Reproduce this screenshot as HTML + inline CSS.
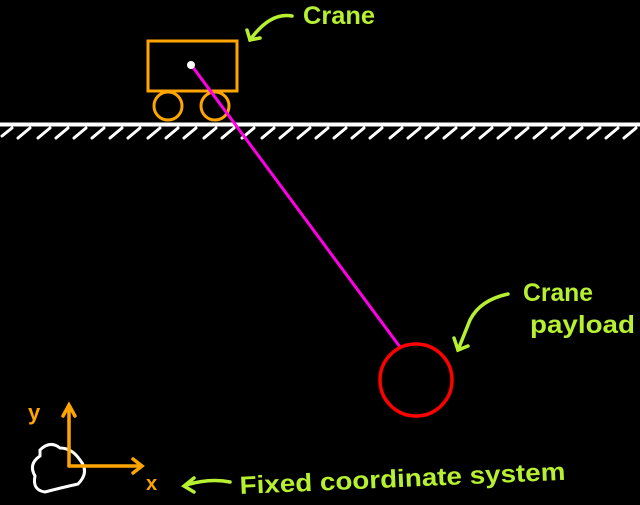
<!DOCTYPE html>
<html><head><meta charset="utf-8"><style>
html,body{margin:0;padding:0;background:#000;width:640px;height:505px;overflow:hidden}
text{font-family:"Liberation Sans",sans-serif;fill:#b6f030;font-weight:bold}
</style></head><body>
<svg width="640" height="505" viewBox="0 0 640 505" xmlns="http://www.w3.org/2000/svg">
<rect width="640" height="505" fill="#000"/>
<line x1="0" y1="124.5" x2="640" y2="124.5" stroke="#fff" stroke-width="4"/>
<g stroke="#fff" stroke-width="3" stroke-linecap="round">
<path d="M2 136 L12 128 M18 138 L30 128 M38 138 L50 128 M56 138 L68 128 M74 138 L86 128 M92 138 L104 128 M110 138 L122 128 M128 138 L140 128 M148 138 L160 128 M166 138 L178 128 M184 138 L196 128 M204 138 L216 128 M222 138 L234 128 M242 138 L254 128 M262 138 L274 128 M280 138 L292 128 M298 138 L310 128 M316 138 L328 128 M334 138 L346 128 M352 138 L364 128 M370 138 L382 128 M390 138 L402 128 M408 138 L420 128 M426 138 L438 128 M444 138 L456 128 M462 138 L474 128 M480 138 L492 128 M498 138 L510 128 M516 138 L528 128 M534 138 L546 128 M552 138 L564 128 M570 138 L582 128 M588 138 L600 128 M606 138 L618 128 M624 138 L636 128"/>
</g>
<rect x="148" y="41" width="89" height="50" fill="none" stroke="#ffa500" stroke-width="3"/>
<circle cx="168" cy="106" r="14" fill="none" stroke="#ffa500" stroke-width="3"/>
<circle cx="215" cy="106" r="14" fill="none" stroke="#ffa500" stroke-width="3"/>
<line x1="192" y1="66" x2="400" y2="347" stroke="#ff00e6" stroke-width="3"/>
<circle cx="191" cy="65" r="4" fill="#fff"/>
<circle cx="416" cy="380" r="36" fill="none" stroke="#ff0000" stroke-width="3.5"/>
<g stroke="#b6f030" stroke-width="3.5" fill="none" stroke-linecap="round">
<path d="M292 16 Q270 12 250 40"/><path d="M247 30 L250 40 L260 38"/>
<path d="M508 294 Q480 300 470 320 L458 350"/><path d="M454 338 L458 350 L468 346"/>
<path d="M230 482 Q210 478 186 485"/><path d="M194 478 L184 486 L194 492"/>
</g>
<text x="303" y="24" font-size="25" textLength="72" lengthAdjust="spacingAndGlyphs">Crane</text>
<text x="523" y="301" font-size="25" textLength="70" lengthAdjust="spacingAndGlyphs">Crane</text>
<text x="530" y="333" font-size="25" textLength="105" lengthAdjust="spacingAndGlyphs">payload</text>
<text x="240" y="494" font-size="25" textLength="326" lengthAdjust="spacingAndGlyphs" transform="rotate(-2.5 240 494)">Fixed coordinate system</text>
<path d="M40 450 Q50 440 60 448 Q72 448 80 460 Q90 472 78 484 Q60 488 45 492 Q32 490 35 476 Q28 464 40 456 Z" fill="none" stroke="#fff" stroke-width="3"/>
<g stroke="#ffa500" stroke-width="3.5" fill="none" stroke-linecap="round">
<path d="M69 466 L69 406 M63 416 L69 405 L75 416"/>
<path d="M69 466 L142 466 M133 459 L142 466 L133 473"/>
</g>
<text x="28" y="420" font-size="22" style="fill:#ffa500">y</text>
<text x="146" y="490" font-size="20" style="fill:#ffa500">x</text>
</svg>
</body></html>
